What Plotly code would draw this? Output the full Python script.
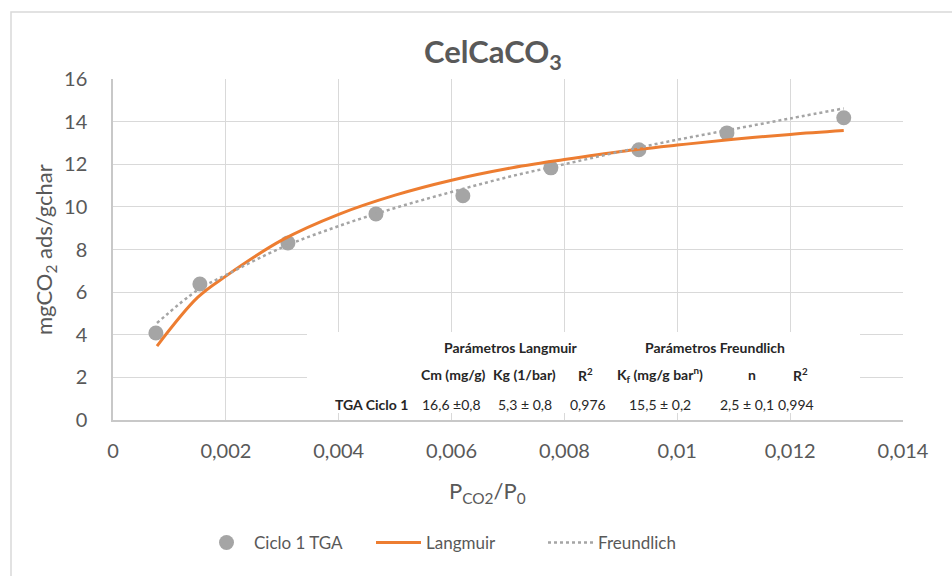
import plotly.graph_objects as go

# ---- data ----
p_data = [0.00076, 0.00154, 0.0031, 0.00466, 0.0062, 0.00776, 0.00932, 0.01088, 0.01295]
q_data = [4.08, 6.38, 8.31, 9.67, 10.52, 11.83, 12.68, 13.47, 14.18]

p_fit = [0.00078, 0.0015, 0.002, 0.003, 0.004, 0.005, 0.006, 0.007, 0.008, 0.009, 0.010, 0.011, 0.012, 0.01295]
q_langmuir = [3.47, 5.75, 6.75, 8.45, 9.65, 10.55, 11.25, 11.8, 12.22, 12.6, 12.9, 13.17, 13.4, 13.58]
q_freundlich = [4.55, 6.1, 6.8, 8.1, 9.1, 9.95, 10.7, 11.4, 12.0, 12.6, 13.15, 13.65, 14.15, 14.62]

x_ticks = [0, 0.002, 0.004, 0.006, 0.008, 0.010, 0.012, 0.014]
x_ticktext = ["0", "0,002", "0,004", "0,006", "0,008", "0,01", "0,012", "0,014"]
y_ticks = [0, 2, 4, 6, 8, 10, 12, 14, 16]

series_names = ["Ciclo 1 TGA", "Langmuir", "Freundlich"]

table_header = ["Parámetros Langmuir", "Parámetros Freundlich"]
table_cols = ["Cm (mg/g)", "Kg (1/bar)", "R<sup>2</sup>", "K<sub>f</sub> (mg/g bar<sup>n</sup>)", "n", "R<sup>2</sup>"]
table_rowlabel = "TGA Ciclo 1"
table_values = ["16,6 ±0,8", "5,3 ± 0,8", "0,976", "15,5 ± 0,2", "2,5 ± 0,1", "0,994"]

# ---- layout helpers (pixels -> paper) ----
W, H = 952, 576
L, R, T, B = 113, 903, 79, 420
def px(x):
    return (x - L) / (R - L)
def py(y):
    return (B - y) / (B - T)

GRAY = "#A5A5A5"
ORANGE = "#ED7D31"
TXT = "#595959"
FONT = "Lato"

fig = go.Figure()
fig.add_trace(go.Scatter(x=p_data, y=q_data, mode="markers", name=series_names[0],
                         marker=dict(size=15, color=GRAY)))
fig.add_trace(go.Scatter(x=p_fit, y=q_langmuir, mode="lines", name=series_names[1],
                         line=dict(color=ORANGE, width=3, shape="spline")))
fig.add_trace(go.Scatter(x=p_fit, y=q_freundlich, mode="lines", name=series_names[2],
                         line=dict(color=GRAY, width=2.5, dash="dot", shape="spline")))

shapes = [
    # chart border
    dict(type="rect", xref="paper", yref="paper", x0=px(11), x1=px(W + 20), y0=py(H + 20), y1=py(12),
         line=dict(color="#D9D9D9", width=1.5), fillcolor="rgba(0,0,0,0)", layer="below"),
    # table background
    dict(type="rect", xref="paper", yref="paper", x0=px(307), x1=px(860), y0=py(413), y1=py(332),
         line=dict(width=0), fillcolor="white", layer="above"),
]

ann = []
ann.append(dict(text="<b>CelCaCO<sub>3</sub></b>", x=px(493), y=py(53), xref="paper", yref="paper",
                showarrow=False, font=dict(family=FONT, size=31, color=TXT), xanchor="center", yanchor="middle"))
ann.append(dict(text="P<sub>CO2</sub>/P<sub>0</sub>", x=px(487), y=py(492), xref="paper", yref="paper",
                showarrow=False, font=dict(family=FONT, size=22, color=TXT), xanchor="center", yanchor="middle"))
ann.append(dict(text="mgCO<sub>2</sub> ads/gchar", x=px(45), y=py(250), xref="paper", yref="paper",
                showarrow=False, textangle=-90, font=dict(family=FONT, size=22, color=TXT),
                xanchor="center", yanchor="middle"))

TCOL = "#262626"
TS = 14
hdr_x = [511, 715]
for t, xx in zip(table_header, hdr_x):
    ann.append(dict(text="<b>" + t + "</b>", x=px(xx), y=py(347), xref="paper", yref="paper", showarrow=False,
                    font=dict(family=FONT, size=TS, color=TCOL), xanchor="center", yanchor="middle"))
col_x = [453, 524, 585, 660, 752, 800]
for t, xx in zip(table_cols, col_x):
    ann.append(dict(text="<b>" + t + "</b>", x=px(xx), y=py(374), xref="paper", yref="paper", showarrow=False,
                    font=dict(family=FONT, size=TS, color=TCOL), xanchor="center", yanchor="middle"))
ann.append(dict(text="<b>" + table_rowlabel + "</b>", x=px(371), y=py(404), xref="paper", yref="paper",
                showarrow=False, font=dict(family=FONT, size=TS, color=TCOL), xanchor="center", yanchor="middle"))
val_x = [451, 525, 588, 660, 747, 796]
for t, xx in zip(table_values, val_x):
    ann.append(dict(text=t, x=px(xx), y=py(404), xref="paper", yref="paper", showarrow=False,
                    font=dict(family=FONT, size=TS, color=TCOL), xanchor="center", yanchor="middle"))

fig.update_layout(
    width=W, height=H,
    margin=dict(l=L, r=W - R, t=T, b=H - B, autoexpand=False),
    paper_bgcolor="white", plot_bgcolor="white",
    font=dict(family=FONT, color=TXT, size=16),
    showlegend=True,
    legend=dict(orientation="h", x=px(199), xanchor="left", y=py(543), yanchor="middle",
                itemwidth=45, entrywidth=112, entrywidthmode="pixels",
                font=dict(family=FONT, size=17, color=TXT), bgcolor="rgba(0,0,0,0)"),
    xaxis=dict(range=[0, 0.014], tickvals=x_ticks, ticktext=x_ticktext, showgrid=True,
               gridcolor="#D9D9D9", gridwidth=1.3, showline=True, linecolor="#C8C8C8", linewidth=1.5,
               zeroline=False, ticks="", ticklabelstandoff=12, tickfont=dict(size=20, color=TXT)),
    yaxis=dict(range=[0, 16], tickvals=y_ticks, showgrid=True, gridcolor="#D9D9D9", gridwidth=1.3,
               showline=True, linecolor="#C8C8C8", linewidth=1.5, zeroline=False, ticks="",
               ticklabelstandoff=20, tickfont=dict(size=20, color=TXT)),
    shapes=shapes,
    annotations=ann,
)

fig.write_html("out.html")
